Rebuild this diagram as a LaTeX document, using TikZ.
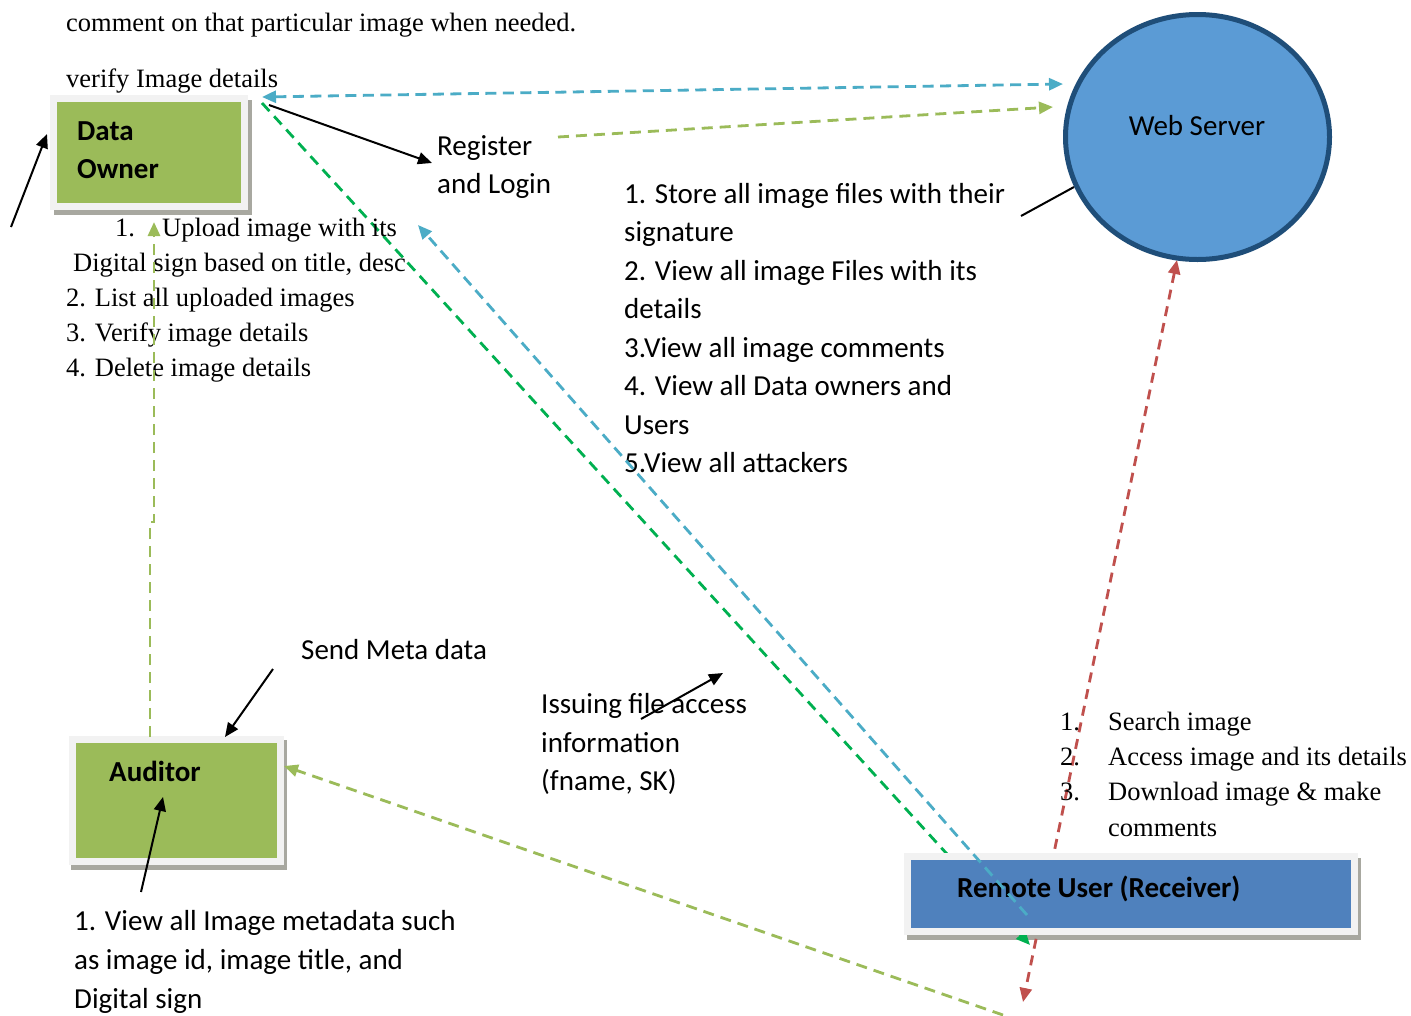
\documentclass[tikz,border=0pt]{standalone}
\usepackage{fontspec}
\setmainfont{Liberation Serif}
\newfontfamily\calibfont{Carlito}
\usetikzlibrary{arrows.meta,shapes.geometric,calc}
\newcommand\txtserif{\fontsize{26.5}{35}\selectfont}
\newcommand\txtsans{\calibfont\fontsize{29}{38.5}\selectfont}
\newcommand\txtbold{\calibfont\bfseries\fontsize{29}{38.5}\selectfont}
\definecolor{cgreen}{HTML}{9BBB59}
\definecolor{cframe}{HTML}{F2F2F2}
\definecolor{cshadow}{HTML}{A8A8A0}
\definecolor{cbluebox}{HTML}{4F81BD}
\definecolor{cws}{HTML}{5B9BD5}
\definecolor{cwsline}{HTML}{1F4E79}
\definecolor{cdblue}{HTML}{4BACC6}
\definecolor{cdgreen}{HTML}{00B050}
\definecolor{cred}{HTML}{C0504D}
\pgfdeclarelayer{bg}
\pgfsetlayers{bg,main}
\begin{document}
\begin{tikzpicture}[x=1pt,y=-1pt,
  serift/.style={anchor=base west, inner sep=0pt, font=\txtserif},
  sanst/.style={anchor=base west, inner sep=0pt, font=\txtsans},
  boldt/.style={anchor=base west, inner sep=0pt, font=\txtbold},
  boxnode/.style={rectangle, draw=cframe, line width=7pt, outer sep=0pt, inner sep=0pt},
  arr/.style={-{Triangle[length=14pt,width=12pt]}},
  darr/.style={{Triangle[length=14pt,width=12pt]}-{Triangle[length=14pt,width=12pt]}},
  blk/.style={draw=black, line width=2pt},
  dblue/.style={draw=cdblue, line width=2.8pt, dash pattern=on 11pt off 6.5pt},
  dgreen/.style={draw=cdgreen, line width=2.8pt, dash pattern=on 11pt off 7pt},
  lgreen/.style={draw=cgreen, line width=2.8pt, dash pattern=on 11pt off 7pt},
  dred/.style={draw=cred, line width=2.8pt, dash pattern=on 10pt off 7pt}]
\useasboundingbox (0,0) rectangle (1411,1015);

% boxes
\node[boxnode, fill=cgreen, minimum width=191pt, minimum height=108pt] (do) at (149,152.5) {};
\node[boxnode, fill=cgreen, minimum width=208pt, minimum height=122pt] (aud) at (176.5,800.5) {};
\node[boxnode, fill=cbluebox, minimum width=447pt, minimum height=75pt] (ru) at (1131,894) {};
\node[ellipse, draw=cwsline, fill=cws, line width=5pt, inner sep=0pt, outer sep=0pt,
      minimum width=264pt, minimum height=245pt] (ws) at (1197.5,137) {};

% box labels
\node[boldt] (dot1) at (77,140) {Data};
\node[boldt] (dot2) at (77,178) {Owner};
\node[boldt] (audt) at (109,781) {Auditor};
\node[boldt] (rut) at (957,897) {Remote User (Receiver)};
\node[font=\txtsans, anchor=base, inner sep=0pt] (wst) at (1197,135) {Web Server};

% serif texts
\node[serift] (top1) at (66,31) {comment on that particular image when needed.};
\node[serift] (ver) at (66,87) {verify Image details};
\node[serift] (dl1n) at (115,236) {1.};
\node[serift] (dl1) at (162,236) {Upload image with its};
\node[serift] (dl1b) at (73,271) {Digital sign based on title, desc};
\node[serift] (dl2) at (66,306) {2. List all uploaded images};
\node[serift] (dl3) at (66,341) {3. Verify image details};
\node[serift] (dl4) at (66,376) {4. Delete image details};
\node[serift] (rl1n) at (1060,730) {1.};
\node[serift] (rl1) at (1108,730) {Search image};
\node[serift] (rl2n) at (1060,765) {2.};
\node[serift] (rl2) at (1108,765) {Access image and its details};
\node[serift] (rl3n) at (1060,800) {3.};
\node[serift] (rl3) at (1108,800) {Download image \& make};
\node[serift] (rl3b) at (1108,836) {comments};

% sans texts
\node[sanst] (reg1) at (437,155) {Register};
\node[sanst] (reg2) at (437,193) {and Login};
\node[sanst] (ws1) at (624,203) {1. Store all image files with their};
\node[sanst] (ws2) at (624,241.5) {signature};
\node[sanst] (ws3) at (624,280) {2. View all image Files with its};
\node[sanst] (ws4) at (624,318.5) {details};
\node[sanst] (ws5) at (624,357) {3.View all image comments};
\node[sanst] (ws6) at (624,395.5) {4. View all Data owners and};
\node[sanst] (ws7) at (624,434) {Users};
\node[sanst] (ws8) at (624,472.5) {5.View all attackers};
\node[sanst] (smd) at (301,659) {Send Meta data};
\node[sanst] (is1) at (541,713) {Issuing file access};
\node[sanst] (is2) at (541,752) {information};
\node[sanst] (is3) at (541,790) {(fname, SK)};
\node[sanst] (au1) at (74,930) {1. View all Image metadata such};
\node[sanst] (au2) at (74,969) {as image id, image title, and};
\node[sanst] (au3) at (74,1008) {Digital sign};

% coordinates for connector ends
\coordinate (bA) at (262,97);
\coordinate (bB) at (1063,84);
\coordinate (lg1) at (558,137);
\coordinate (lg2) at (1053,107);
\coordinate (g1) at (262,103);
\coordinate (g2) at (1030,945);
\coordinate (b3) at (1027,915);
\coordinate (b4) at (418,225);
\coordinate (r1) at (1177,260);
\coordinate (r2) at (1023,1002);
\coordinate (lg3) at (1003,1015);
\coordinate (lg4) at (284,766);
\coordinate (v1) at (150,737);
\coordinate (v2) at (150,522);
\coordinate (v3) at (154,522);
\coordinate (v4) at (154,222);
\coordinate (k1a) at (11,227);
\coordinate (k1b) at (47,134);
\coordinate (k2a) at (269,105);
\coordinate (k2b) at (432,163);
\coordinate (k3a) at (1021,216);
\coordinate (k3b) at (1074,187);
\coordinate (k4a) at (273,669);
\coordinate (k4b) at (225,737);
\coordinate (k5a) at (141,892);
\coordinate (k5b) at (163,797);
\coordinate (k6a) at (641,719);
\coordinate (k6b) at (723,673);

% white page, shadows and connectors behind the boxes
\begin{pgfonlayer}{bg}
\fill[white] (0,0) rectangle (1411,1015);
\fill[cshadow] ($(do.south west)+(0.5,8.5)$) rectangle ($(do.north east)+(7.5,1.5)$);
\fill[cshadow] ($(aud.south west)+(-1.5,8.5)$) rectangle ($(aud.north east)+(6.5,0.5)$);
\fill[cshadow] ($(ru.south west)+(-0.5,8.5)$) rectangle ($(ru.north east)+(6.5,1.5)$);
\draw[dgreen, arr] (g1) -- (g2);
\draw[dred, darr] (r1) -- (r2);
\end{pgfonlayer}

% connectors
\draw[dblue, darr] (bA) -- (bB);
\draw[lgreen, arr] (lg1) -- (lg2);
\draw[dblue, arr] (b3) -- (b4);
\draw[lgreen, arr] (lg3) -- (lg4);
\draw[lgreen, arr] (v1) -- (v2) -- (v3) -- (v4);
\draw[blk, arr] (k1a) -- (k1b);
\draw[blk, arr] (k2a) -- (k2b);
\draw[blk] (k3a) -- (k3b);
\draw[blk, arr] (k4a) -- (k4b);
\draw[blk, arr] (k5a) -- (k5b);
\draw[blk, arr] (k6a) -- (k6b);
\end{tikzpicture}
\end{document}
